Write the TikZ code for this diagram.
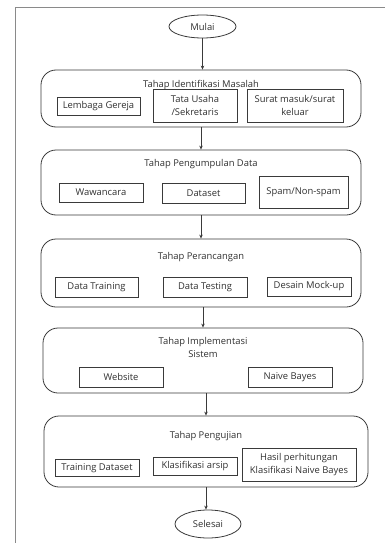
\documentclass[tikz,border=0pt]{standalone}
\usepackage{fontspec}
\setmainfont{Open Sans}
\usetikzlibrary{shapes.geometric,arrows.meta}
\definecolor{ln}{HTML}{3A3A3A}
\definecolor{frame}{HTML}{8A8A8A}
\definecolor{txt}{HTML}{303030}
\begin{document}
\begin{tikzpicture}[x=1pt,y=-1pt,font=\fontsize{9.4}{13.5}\selectfont,text=txt,
  stage/.style={draw=ln,line width=0.8pt,rounded corners=15pt,inner sep=0pt},
  item/.style={draw=ln,line width=0.8pt,inner sep=0pt,align=center},
  term/.style={draw=ln,line width=0.8pt,ellipse,inner sep=0pt},
  title/.style={inner sep=0pt,align=center},
  arr/.style={draw=ln,line width=0.8pt,-{Stealth[length=4pt,width=3.5pt]}}]
\useasboundingbox (0,0) rectangle (385,543);
\draw[frame,line width=1pt] (15,543) -- (15,8) -- (385,8);
% start
\node[term,minimum width=67pt,minimum height=23pt] (mulai) at (202.5,26.5) {Mulai};
% stage 1
\node[stage,minimum width=320pt,minimum height=57pt] (s1) at (201,98.5) {};
\node[title] (t1) at (201,85) {Tahap Identifikasi Masalah};
\node[item,minimum width=83pt,minimum height=18pt] (a1) at (98.5,106) {Lembaga Gereja};
\node[item,minimum width=84pt,minimum height=33pt] (a2) at (195,105.5) {Tata Usaha\\/Sekretaris};
\node[item,minimum width=96pt,minimum height=33pt] (a3) at (295,105.5) {Surat masuk/surat\\keluar};
% stage 2
\node[stage,minimum width=320pt,minimum height=65pt] (s2) at (201,182.5) {};
\node[title] (t2) at (201,164) {Tahap Pengumpulan Data};
\node[item,minimum width=84pt,minimum height=19pt] (b1) at (101,192.5) {Wawancara};
\node[item,minimum width=83pt,minimum height=20pt] (b2) at (203.5,193) {Dataset};
\node[item,minimum width=89pt,minimum height=32pt] (b3) at (303.5,192) {Spam/Non-spam};
% stage 3
\node[stage,minimum width=320pt,minimum height=68pt] (s3) at (201,273) {};
\node[title] (t3) at (201,257) {Tahap Perancangan};
\node[item,minimum width=83pt,minimum height=20pt] (c1) at (96.5,287) {Data Training};
\node[item,minimum width=84pt,minimum height=20pt] (c2) at (205,287) {Data Testing};
\node[item,minimum width=84pt,minimum height=19pt] (c3) at (309,286.5) {Desain Mock-up};
% stage 4
\node[stage,minimum width=320pt,minimum height=65pt] (s4) at (203,360.5) {};
\node[title] (t4) at (203,347.5) {Tahap Implementasi\\Sistem};
\node[item,minimum width=84pt,minimum height=20pt] (d1) at (121,377) {Website};
\node[item,minimum width=84pt,minimum height=20pt] (d2) at (290,377) {Naive Bayes};
% stage 5
\node[stage,minimum width=324pt,minimum height=71pt] (s5) at (206,451.5) {};
\node[title] (t5) at (206,436) {Tahap Pengujian};
\node[item,minimum width=84pt,minimum height=17pt] (e1) at (97,468) {Training Dataset};
\node[item,minimum width=84pt,minimum height=18pt] (e2) at (195,466) {Klasifikasi arsip};
\node[item,minimum width=114pt,minimum height=33pt] (e3) at (299,464.5) {Hasil perhitungan\\Klasifikasi Naive Bayes};
% end
\node[term,minimum width=66pt,minimum height=28pt] (sel) at (208,524) {Selesai};
% arrows
\draw[arr] (mulai.south) -- (mulai.south |- s1.north);
\draw[arr] (s1.south) -- (s2.north);
\draw[arr] (s2.south) -- (s3.north);
\draw[arr] (s3.south -| s4.north) -- (s4.north);
\draw[arr] (s4.south -| s5.north) -- (s5.north);
\draw[arr] (s5.south) -- (s5.south |- sel.north);
\end{tikzpicture}
\end{document}
